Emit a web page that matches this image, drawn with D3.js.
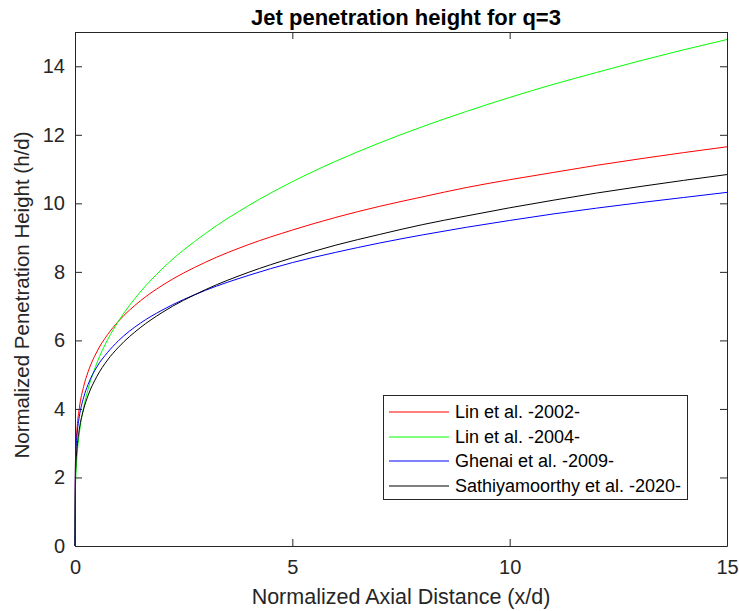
<!DOCTYPE html>
<html>
<head>
<meta charset="utf-8">
<script src="https://cdn.jsdelivr.net/npm/d3@7"></script>
<style>
  body { margin: 0; background: #fff; }
  svg { font-family: "Liberation Sans", Arial, sans-serif; }
  .axis path, .axis line { stroke: #262626; }
  .axis text { fill: #262626; font-size: 20px; }
</style>
</head>
<body>
<svg width="739" height="611"></svg>
<script>
// values
const xValues = [0, 0.01, 0.02, 0.05, 0.1, 0.2, 0.3, 0.5, 0.75, 1, 1.5, 2, 3, 4, 5, 6, 7, 8, 9, 10, 11, 12, 13, 14, 15];
const lin2002 = [0, 2.47, 2.86, 3.48, 4.03, 4.66, 5.08, 5.66, 6.17, 6.56, 7.15, 7.60, 8.28, 8.80, 9.22, 9.59, 9.91, 10.19, 10.46, 10.69, 10.90, 11.11, 11.30, 11.48, 11.65];
const lin2004 = [0, 1.65, 2.03, 2.67, 3.29, 4.05, 4.57, 5.33, 6.02, 6.56, 7.41, 8.08, 9.12, 9.94, 10.63, 11.23, 11.76, 12.24, 12.68, 13.09, 13.47, 13.82, 14.16, 14.48, 14.78];
const ghenai2009 = [0, 2.38, 2.74, 3.29, 3.78, 4.34, 4.71, 5.22, 5.65, 5.99, 6.50, 6.88, 7.46, 7.90, 8.27, 8.57, 8.84, 9.08, 9.30, 9.50, 9.69, 9.86, 10.02, 10.17, 10.32];
const sathiya2020 = [0, 2.00, 2.35, 2.90, 3.41, 4.00, 4.39, 4.94, 5.43, 5.80, 6.37, 6.81, 7.48, 7.99, 8.41, 8.78, 9.09, 9.38, 9.63, 9.87, 10.09, 10.30, 10.49, 10.67, 10.84];

const seriesNames = ["Lin et al. -2002-", "Lin et al. -2004-", "Ghenai et al. -2009-", "Sathiyamoorthy et al. -2020-"];
const seriesColors = ["#ff0000", "#00ff00", "#0000ff", "#000000"];
const seriesValues = [lin2002, lin2004, ghenai2009, sathiya2020];

const xTicks = [0, 5, 10, 15];
const yTicks = [0, 2, 4, 6, 8, 10, 12, 14];

var svg = d3.select("svg");

// plot box
var boxLeft = 75, boxRight = 727, boxTop = 32, boxBottom = 546;

var x = d3.scaleLinear().domain([0, 15]).range([boxLeft, boxRight]);
var y = d3.scaleLinear().domain([0, 15]).range([boxBottom, boxTop]);

var line = d3.line()
    .x((d, i) => x(xValues[i]))
    .y(d => y(d))
    .curve(d3.curveMonotoneX);

// curves
svg.append("g")
    .selectAll("path")
    .data(seriesValues)
    .enter().append("path")
    .attr("fill", "none")
    .attr("stroke", (d, i) => seriesColors[i])
    .attr("stroke-width", 1)
    .attr("d", line);

// axes, ticks pointing inward like matlab
svg.append("g")
    .attr("class", "axis")
    .attr("transform", "translate(0," + boxBottom + ")")
    .call(d3.axisBottom(x).tickValues(xTicks).tickSizeInner(-7).tickSizeOuter(0).tickPadding(14));

svg.append("g")
    .attr("class", "axis")
    .attr("transform", "translate(0," + boxTop + ")")
    .call(d3.axisTop(x).tickValues(xTicks).tickSizeInner(-7).tickSizeOuter(0).tickFormat(""));

svg.append("g")
    .attr("class", "axis")
    .attr("transform", "translate(" + boxLeft + ",0)")
    .call(d3.axisLeft(y).tickValues(yTicks).tickSizeInner(-7).tickSizeOuter(0).tickPadding(10));

svg.append("g")
    .attr("class", "axis")
    .attr("transform", "translate(" + boxRight + ",0)")
    .call(d3.axisRight(y).tickValues(yTicks).tickSizeInner(-7).tickSizeOuter(0).tickFormat(""));

svg.selectAll(".axis").attr("font-family", null).attr("font-size", null);

// title and labels
svg.append("text")
    .attr("x", (boxLeft + boxRight) / 2 + 5)
    .attr("y", 25)
    .attr("text-anchor", "middle")
    .style("font-size", "22px")
    .style("font-weight", "bold")
    .style("fill", "#000")
    .text("Jet penetration height for q=3");

svg.append("text")
    .attr("x", (boxLeft + boxRight) / 2)
    .attr("y", 604)
    .attr("text-anchor", "middle")
    .style("font-size", "21.5px")
    .style("fill", "#262626")
    .text("Normalized Axial Distance (x/d)");

svg.append("text")
    .attr("transform", "translate(29," + ((boxTop + boxBottom) / 2 + 6) + ") rotate(-90)")
    .attr("text-anchor", "middle")
    .style("font-size", "20.5px")
    .style("fill", "#262626")
    .text("Normalized Penetration Height (h/d)");

// legend
var legend = svg.append("g").attr("transform", "translate(383,395)");

legend.append("rect")
    .attr("x", 0.5)
    .attr("y", 0.5)
    .attr("width", 304)
    .attr("height", 104)
    .attr("fill", "#fff")
    .attr("stroke", "#262626")
    .attr("stroke-width", 1);

var rows = legend.selectAll("g.row")
    .data(seriesNames)
    .enter().append("g")
    .attr("class", "row")
    .attr("transform", (d, i) => "translate(0," + Math.round(17 + i * 24.7) + ")");

rows.append("line")
    .attr("x1", 6)
    .attr("x2", 66)
    .attr("stroke", (d, i) => seriesColors[i])
    .attr("stroke-width", 1.2);

rows.append("text")
    .attr("x", 72)
    .attr("dy", "0.35em")
    .style("font-size", "18px")
    .style("fill", "#000")
    .text(d => d);
</script>
</body>
</html>
